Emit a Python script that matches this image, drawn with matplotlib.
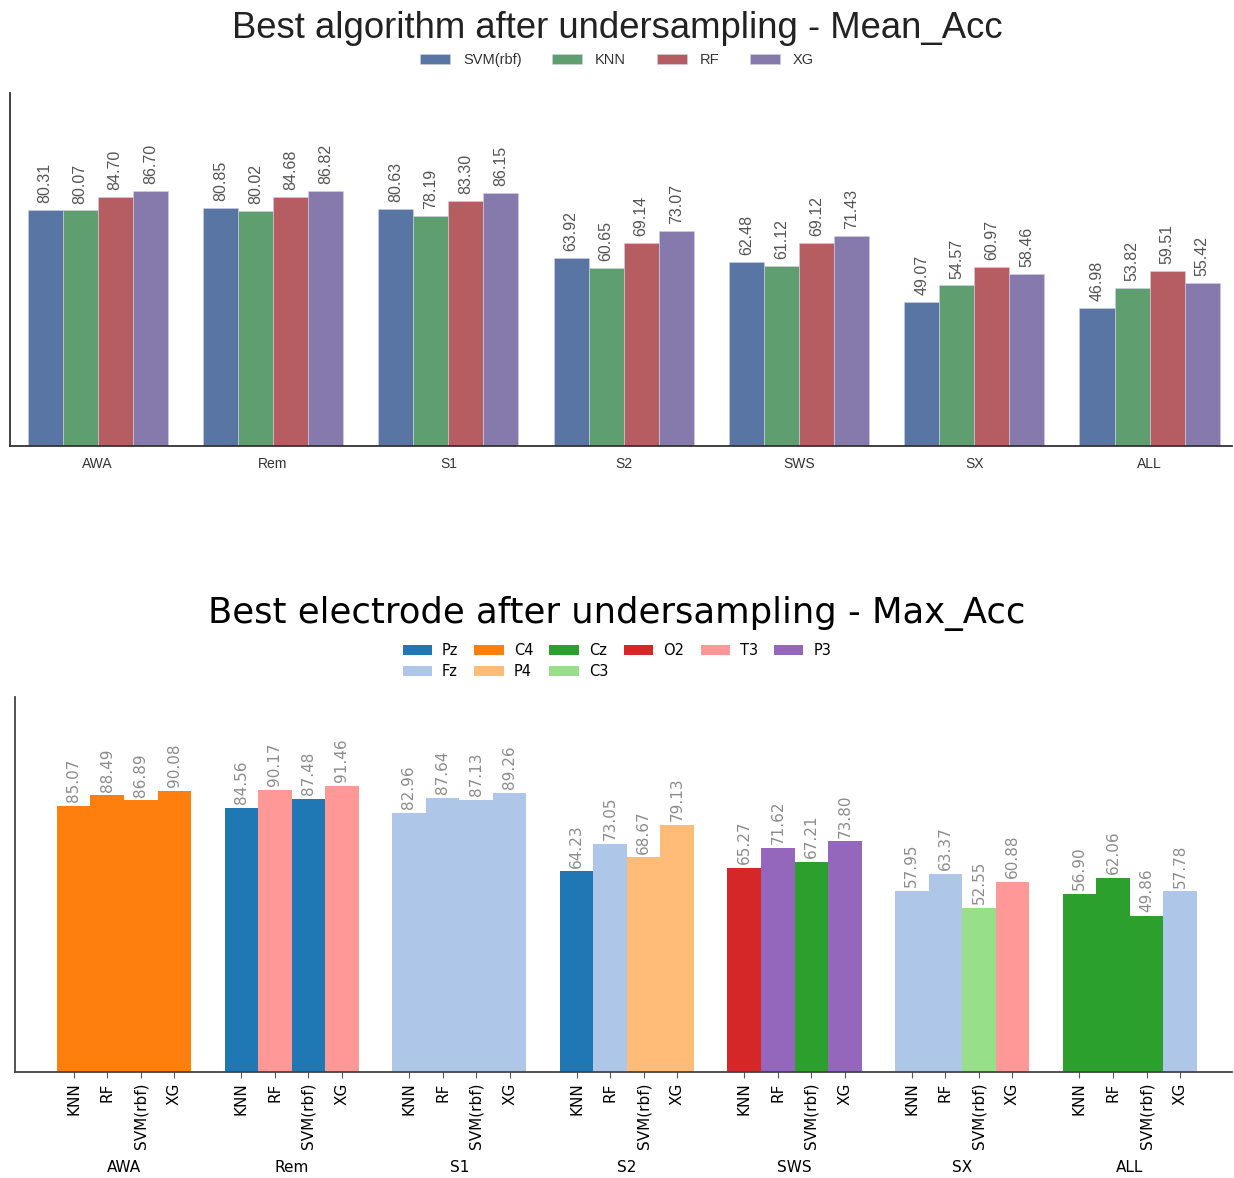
import numpy as np
import matplotlib
matplotlib.use("Agg")
import matplotlib.pyplot as plt
from matplotlib.patches import Patch

# top chart: mean accuracy per algorithm
stages = ["AWA", "Rem", "S1", "S2", "SWS", "SX", "ALL"]
algos_top = ["SVM(rbf)", "KNN", "RF", "XG"]
svm_mean = [80.31, 80.85, 80.63, 63.92, 62.48, 49.07, 46.98]
knn_mean = [80.07, 80.02, 78.19, 60.65, 61.12, 54.57, 53.82]
rf_mean = [84.70, 84.68, 83.30, 69.14, 69.12, 60.97, 59.51]
xg_mean = [86.70, 86.82, 86.15, 73.07, 71.43, 58.46, 55.42]
top_colors = ["#5975a4", "#5f9e6e", "#b55d60", "#857aab"]

# bottom chart: max accuracy with best electrode
algos_bot = ["KNN", "RF", "SVM(rbf)", "XG"]
knn_max = [85.07, 84.56, 82.96, 64.23, 65.27, 57.95, 56.90]
rf_max = [88.49, 90.17, 87.64, 73.05, 71.62, 63.37, 62.06]
svm_max = [86.89, 87.48, 87.13, 68.67, 67.21, 52.55, 49.86]
xg_max = [90.08, 91.46, 89.26, 79.13, 73.80, 60.88, 57.78]
knn_elec = ["C4", "Pz", "Fz", "Pz", "O2", "Fz", "Cz"]
rf_elec = ["C4", "T3", "Fz", "Fz", "P3", "Fz", "Cz"]
svm_elec = ["C4", "Pz", "Fz", "P4", "Cz", "C3", "Cz"]
xg_elec = ["C4", "T3", "Fz", "P4", "P3", "T3", "Fz"]
electrodes = ["Pz", "Fz", "C4", "P4", "Cz", "C3", "O2", "T3", "P3"]
elec_colors = {"Pz": "#1f77b4", "Fz": "#aec7e8", "C4": "#ff7f0e", "P4": "#ffbb78",
               "Cz": "#2ca02c", "C3": "#98df8a", "O2": "#d62728", "T3": "#ff9896",
               "P3": "#9467bd"}

fig = plt.figure(figsize=(12.34, 11.78), dpi=100)

# ---------- top ----------
ax1 = fig.add_axes([0.0081, 0.6214, 0.9903, 0.2996])
x = np.arange(len(stages))
w = 0.2
top_series = [svm_mean, knn_mean, rf_mean, xg_mean]
for i, vals in enumerate(top_series):
    pos = x + (i - 1.5) * w
    ax1.bar(pos, vals, w, color=top_colors[i], edgecolor="#d0d0e8", linewidth=0.4,
            label=algos_top[i])
    for p, v in zip(pos, vals):
        ax1.text(p, v + 2.3, "%.2f" % v, rotation=90, ha="center", va="bottom",
                 fontsize=11.5, color="#555555", family="Liberation Sans")
ax1.set_xlim(-0.5, 6.47)
ax1.set_ylim(0, 120)
ax1.set_yticks([])
ax1.set_xticks(x)
ax1.set_xticklabels(stages, family="Liberation Sans", fontsize=10, color="#333333")
ax1.tick_params(axis="x", length=0, pad=8)
for s in ["top", "right"]:
    ax1.spines[s].set_visible(False)
for s in ["left", "bottom"]:
    ax1.spines[s].set_color("#333333")
    ax1.spines[s].set_linewidth(1.3)
fig.text(0.5, 0.976, "Best algorithm after undersampling - Mean_Acc", ha="center",
         va="center", fontsize=26.3, family="Liberation Sans", color="#222222")
leg1 = fig.legend(loc="center", bbox_to_anchor=(0.5, 0.949), ncol=4, frameon=False,
                  prop={"family": "Liberation Sans", "size": 10.5}, handlelength=2.05,
                  handleheight=0.7, handletextpad=0.9, columnspacing=2.1)
for t in leg1.get_texts():
    t.set_color("#333333")

# ---------- bottom ----------
ax2 = fig.add_axes([0.0122, 0.09, 0.9862, 0.3183])
bot_series = [knn_max, rf_max, svm_max, xg_max]
bot_elecs = [knn_elec, rf_elec, svm_elec, xg_elec]
tick_pos = []
tick_lab = []
for i, vals in enumerate(bot_series):
    pos = x + (i - 1.5) * w
    cols = [elec_colors[e] for e in bot_elecs[i]]
    ax2.bar(pos, vals, w, color=cols)
    for p, v in zip(pos, vals):
        ax2.text(p, v + 1.2, "%.2f" % v, rotation=90, ha="center", va="bottom",
                 fontsize=11, color="#8c8c8c")
    tick_pos += list(pos)
    tick_lab += [algos_bot[i]] * len(pos)
ax2.set_xlim(-0.65, 6.61)
ax2.set_ylim(0, 120)
ax2.set_yticks([])
ax2.set_xticks(tick_pos)
ax2.set_xticklabels(tick_lab, rotation=90, fontsize=11)
ax2.tick_params(axis="x", length=4, color="#555555")
for s in ["top", "right"]:
    ax2.spines[s].set_visible(False)
for s in ["left", "bottom"]:
    ax2.spines[s].set_color("#444444")
    ax2.spines[s].set_linewidth(1.3)
for xi, st in zip(x, stages):
    ax2.annotate(st, xy=(xi, 0), xycoords=("data", "axes fraction"),
                 xytext=(0, -69), textcoords="offset points", ha="center",
                 va="center", fontsize=11)
fig.text(0.5, 0.479, "Best electrode after undersampling - Max_Acc", ha="center",
         va="center", fontsize=25.5)
handles = [Patch(facecolor=elec_colors[e], label=e) for e in electrodes]
fig.legend(handles=handles, loc="center", bbox_to_anchor=(0.5, 0.439), ncol=6,
           frameon=False, fontsize=10.5, handlelength=2.0, handleheight=0.7,
           columnspacing=1.1, handletextpad=0.7, labelspacing=0.4)

fig.savefig("out.png", dpi=100)
